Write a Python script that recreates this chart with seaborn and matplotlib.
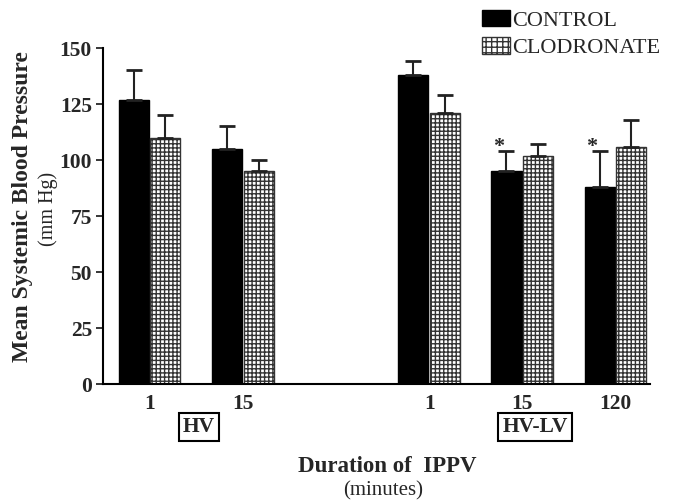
import numpy as np
import pandas as pd
import matplotlib
matplotlib.use("Agg")
import matplotlib.pyplot as plt
import seaborn as sns
from matplotlib.patches import Patch

# values (mm Hg)
slots = ["HV 1", "HV 15", "", "HV-LV 1", "HV-LV 15", "HV-LV 120"]
groups = ["HV 1", "HV 15", "HV-LV 1", "HV-LV 15", "HV-LV 120"]
tick_labels = ["1", "15", "", "1", "15", "120"]
control = [127, 105, 138, 95, 88]
control_err = [13, 10, 6, 9, 16]
clodronate = [110, 95, 121, 102, 106]
clodronate_err = [10, 5, 8, 5, 12]
significant = [False, False, False, True, True]

df = pd.DataFrame({
    "group": groups * 2,
    "treatment": ["CONTROL"] * 5 + ["CLODRONATE"] * 5,
    "bp": control + clodronate,
})

sns.set_style("white")
plt.rcParams["font.family"] = ["Liberation Serif", "DejaVu Serif"]
plt.rcParams["hatch.linewidth"] = 1.0

fig = plt.figure(figsize=(6.73, 5.01), dpi=100)
ax = fig.add_axes([103 / 673, 1 - 384 / 501, (650 - 103) / 673, (384 - 48) / 501])

sns.barplot(data=df, x="group", y="bp", hue="treatment", order=slots,
            hue_order=["CONTROL", "CLODRONATE"], palette=["black", "white"],
            width=0.68, gap=0.05, errorbar=None, legend=False, ax=ax,
            edgecolor="black", linewidth=1.0)

# hatch the clodronate bars and add one-sided error bars
bars = [p for p in ax.patches if p.get_height() > 0]
n = len(groups)
for i, p in enumerate(bars):
    is_clod = i >= n
    if is_clod:
        p.set_hatch("++++")
        p.set_edgecolor("#333333")
    k = i % n
    err = clodronate_err[k] if is_clod else control_err[k]
    xc = p.get_x() + p.get_width() / 2
    top = p.get_height()
    ax.errorbar(xc, top, yerr=[[0], [err]], fmt="none", ecolor="#222222",
                elinewidth=1.5, capsize=5.5, capthick=2)
    if not is_clod and significant[k]:
        ax.text(p.get_x() + 0.02, top + err - 2.5, "*", fontsize=16,
                fontweight="bold", ha="left", va="bottom")

ax.set_ylim(0, 150)
ax.set_xlim(-0.5, 5.37)
ax.set_yticks([0, 25, 50, 75, 100, 125, 150])
ax.set_xticks(np.arange(len(slots)))
ax.set_xticklabels(tick_labels)
for lab in ax.get_xticklabels() + ax.get_yticklabels():
    lab.set_fontweight("bold")
    lab.set_fontsize(15.5)
ax.tick_params(axis="y", length=5, width=1.3, direction="out", pad=3, left=True)
ax.tick_params(axis="x", length=0, pad=7)
sns.despine(ax=ax)
for s in ["left", "bottom"]:
    ax.spines[s].set_linewidth(1.5)
    ax.spines[s].set_color("black")
ax.set_xlabel("")
ax.set_ylabel("")

# axis titles
fig.text(23 / 673, 1 - 207 / 501, "Mean Systemic Blood Pressure", rotation=90,
         ha="center", va="center", fontsize=17, fontweight="bold")
fig.text(48 / 673, 1 - 209 / 501, "(mm Hg)", rotation=90,
         ha="center", va="center", fontsize=14.5)
fig.text(387 / 673, 1 - 466 / 501, "Duration of  IPPV", ha="center", va="center",
         fontsize=16.5, fontweight="bold")
fig.text(383 / 673, 1 - 491 / 501, "(minutes)", ha="center", va="center",
         fontsize=15)

# group boxes
box = dict(boxstyle="square,pad=0.2", facecolor="white", edgecolor="black", linewidth=1.5)
ax.text(0.53, -0.128, "HV", transform=ax.get_xaxis_transform(), ha="center",
        va="center", fontsize=15.5, fontweight="bold", bbox=box)
ax.text(4.14, -0.128, "HV-LV", transform=ax.get_xaxis_transform(), ha="center",
        va="center", fontsize=15.5, fontweight="bold", bbox=box)

handles = [Patch(facecolor="black", edgecolor="black", label="CONTROL"),
           Patch(facecolor="white", edgecolor="#333333", hatch="+++", label="CLODRONATE")]
fig.legend(handles=handles, loc="upper left", bbox_to_anchor=(473 / 673, 1 - 1 / 501),
           frameon=False, fontsize=16, handlelength=1.25, handleheight=0.75,
           handletextpad=0.1, labelspacing=0.3, borderaxespad=0)

fig.savefig("out.png", dpi=100)
